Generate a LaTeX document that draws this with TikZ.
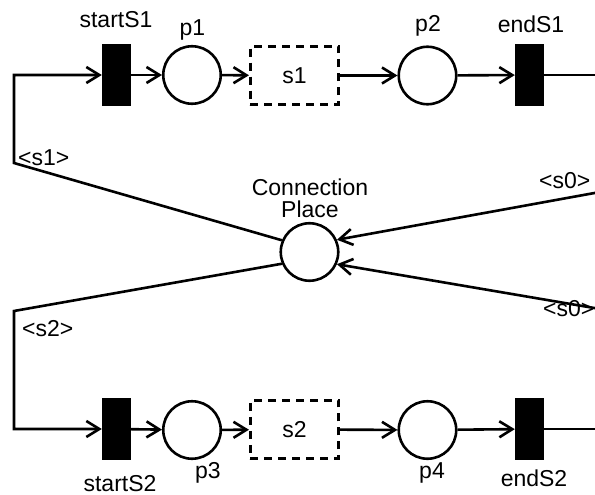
\documentclass[tikz,border=0pt]{standalone}
\usepackage{fontspec}
\setmainfont{Liberation Sans}
\usetikzlibrary{arrows.meta}
\tikzset{
  x=1pt, y=-1pt,
  every node/.style={font=\fontsize{23}{27}\selectfont},
  net/.style={line width=2.6pt},
  arr/.style={net, -{Straight Barb[length=13pt,width=16pt]}},
  trans/.style={rectangle, fill=black, draw=none, minimum width=29pt, minimum height=62pt, inner sep=0pt},
  place/.style={circle, draw, line width=2.6pt, minimum size=57.5pt, inner sep=0pt},
  sub/.style={rectangle, draw, line width=2.6pt, dash pattern=on 8pt off 6pt, minimum width=88.5pt, minimum height=58.5pt, inner sep=0pt},
  lbl/.style={inner sep=0pt}
}
\begin{document}
\begin{tikzpicture}
\clip (0,0) rectangle (595,495);

% upper branch
\node[trans] (startS1) at (116.5,75) {};
\node[place] (p1) at (192,75) {};
\node[sub] (s1) at (294.5,75.5) {s1};
\node[place] (p2) at (427.5,75.5) {};
\node[trans] (endS1) at (529.5,75) {};

% lower branch
\node[trans] (startS2) at (116.5,429) {};
\node[place] (p3) at (192,430) {};
\node[sub] (s2) at (294.5,429.5) {s2};
\node[place] (p4) at (427.5,430) {};
\node[trans] (endS2) at (529.5,429) {};

% connection place
\node[place] (conn) at (309.5,252) {};

% labels
\node[lbl, anchor=base] (lstartS1) at (116,28) {startS1};
\node[lbl, anchor=base] (lp1) at (192.5,36) {p1};
\node[lbl, anchor=base] (lp2) at (428,32) {p2};
\node[lbl, anchor=base] (lendS1) at (531,33) {endS1};
\node[lbl, anchor=base] (lstartS2) at (120,491) {startS2};
\node[lbl, anchor=base] (lp3) at (208,478) {p3};
\node[lbl, anchor=base] (lp4) at (432,478) {p4};
\node[lbl, anchor=base] (lendS2) at (534,486) {endS2};
\node[lbl, anchor=base] (lconn1) at (310,195) {Connection};
\node[lbl, anchor=base] (lconn2) at (310,217) {Place};
\node[lbl, anchor=base west] (ls1) at (18,165) {<s1>};
\node[lbl, anchor=base west] (ls2) at (22,336) {<s2>};
\node[lbl, anchor=base west] (ls0a) at (539,188) {<s0>};
\node[lbl, anchor=base west] (ls0b) at (543,316) {<s0>};

% bend points and free ends
\coordinate (c1) at (14,163);
\coordinate (c2) at (14,311);
\coordinate (r1) at (600,75);
\coordinate (r2) at (600,192);
\coordinate (r3) at (600,309);
\coordinate (r4) at (600,429);

% upper chain
\draw[arr] (conn.157) -- (c1) |- (startS1);
\draw[arr] (startS1) -- (p1);
\draw[arr] (p1) -- (s1);
\draw[arr] (s1) -- (p2);
\draw[arr] (p2) -- (endS1);
\draw[net] (endS1) -- (r1);

% lower chain
\draw[arr] (conn.203) -- (c2) |- (startS2);
\draw[arr] (startS2) -- (p3);
\draw[arr] (p3) -- (s2);
\draw[arr] (s2) -- (p4);
\draw[arr] (p4) -- (endS2);
\draw[net] (endS2) -- (r4);

% incoming arcs
\draw[arr] (r2) -- (conn.24);
\draw[arr] (r3) -- (conn.-24);
\end{tikzpicture}
\end{document}
